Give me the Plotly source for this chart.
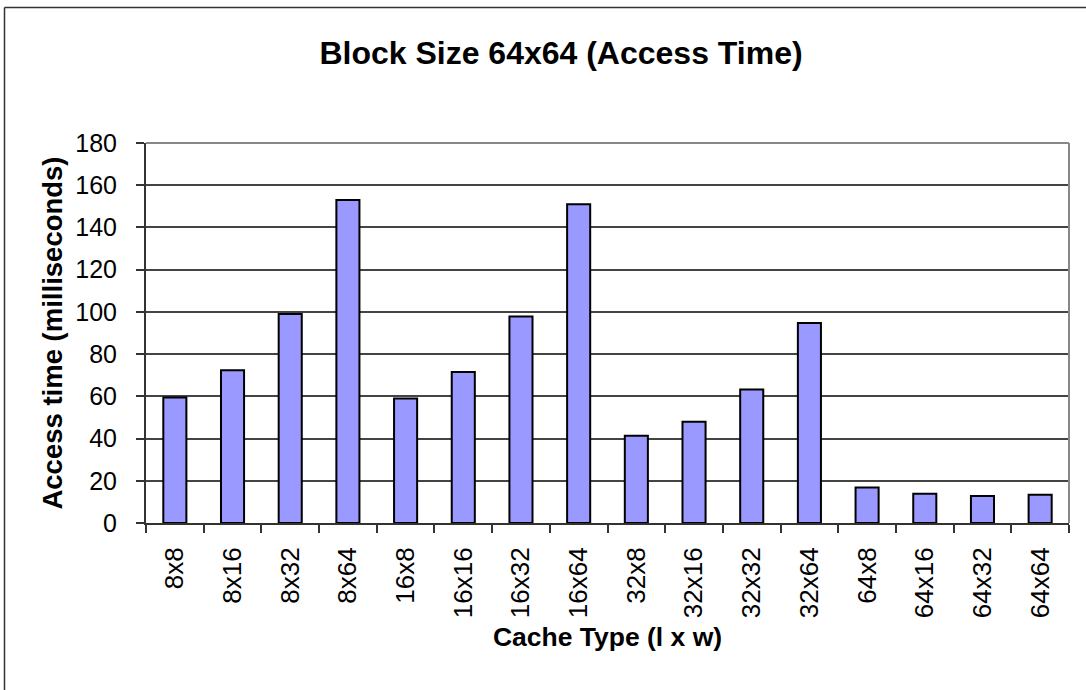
import plotly.graph_objects as go

categories = ["8x8", "8x16", "8x32", "8x64", "16x8", "16x16", "16x32", "16x64",
              "32x8", "32x16", "32x32", "32x64", "64x8", "64x16", "64x32", "64x64"]
access_time = [59.5, 72.3, 99, 153, 59, 71.5, 97.8, 151,
               41.3, 48, 63.2, 94.7, 16.8, 13.9, 12.8, 13.4]
y_ticks = [0, 20, 40, 60, 80, 100, 120, 140, 160, 180]

FONT = "Liberation Sans, Arial, sans-serif"
W, H = 1086, 690
L, R, T, B = 146, 17, 143, 167
pw, ph = W - L - R, H - T - B

def px_x(p):
    return (p - L) / pw

def px_y(p):
    return (H - B - p) / ph

fig = go.Figure(go.Bar(
    x=categories, y=access_time,
    marker=dict(color="#9999FF", line=dict(color="#000000", width=2)),
))

fig.update_layout(
    width=W, height=H,
    margin=dict(l=L, r=R, t=T, b=B),
    paper_bgcolor="white", plot_bgcolor="white",
    bargap=0.6, showlegend=False,
    font=dict(family=FONT, color="black"),
    title=dict(text="Block Size 64x64 (Access Time)",
               font=dict(family=FONT, size=32, weight="bold", color="black"),
               x=561 / W, xref="container", xanchor="center",
               y=1 - 53 / H, yref="container", yanchor="middle"),
)

fig.update_xaxes(
    type="category", tickson="boundaries", ticks="outside", ticklen=8,
    tickcolor="#333333", tickwidth=1.5,
    showline=True, linecolor="#333333", linewidth=2,
    tickangle=-90, tickfont=dict(size=26, family=FONT, color="black"),
    ticklabelstandoff=12,
    showgrid=False,
    title=dict(text="Cache Type (l x w)", standoff=10,
               font=dict(size=26.5, family=FONT, weight="bold", color="black")),
)

fig.update_yaxes(
    range=[0, 180], tickvals=y_ticks, ticktext=[str(v) for v in y_ticks],
    ticks="outside", ticklen=8, tickcolor="#333333", tickwidth=1.5,
    showline=True, linecolor="#333333", linewidth=2,
    showgrid=True, gridcolor="#444444", gridwidth=1.5,
    tickfont=dict(size=25, family=FONT, color="black"),
    ticklabelstandoff=14, zeroline=False,
    title=dict(text="Access time (milliseconds)", standoff=5,
               font=dict(size=27.5, family=FONT, weight="bold", color="black")),
)

# plot-area frame (top and right) in gray
fig.add_shape(type="line", xref="paper", yref="paper", x0=0, x1=1, y0=1, y1=1,
              line=dict(color="#888888", width=2), layer="above")
fig.add_shape(type="line", xref="paper", yref="paper", x0=1, x1=1, y0=0, y1=1,
              line=dict(color="#888888", width=2), layer="above")

# outer chart border (left and top visible)
fig.add_shape(type="line", xref="paper", yref="paper",
              x0=px_x(4.5), x1=px_x(4.5), y0=px_y(H + 5), y1=px_y(7.5),
              line=dict(color="#333333", width=1.5))
fig.add_shape(type="line", xref="paper", yref="paper",
              x0=px_x(4.5), x1=px_x(W + 5), y0=px_y(7.5), y1=px_y(7.5),
              line=dict(color="#333333", width=1.5))

fig.write_html("out.html")
